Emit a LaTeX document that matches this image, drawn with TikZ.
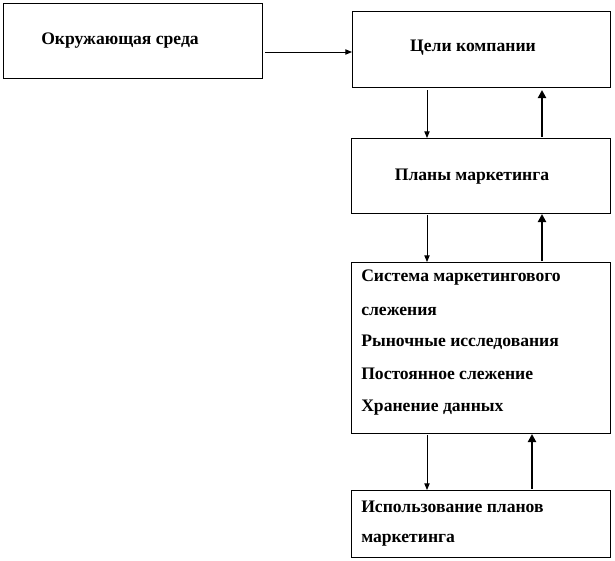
\documentclass[tikz,border=0pt]{standalone}
\usepackage{fontspec}
\setmainfont{Liberation Serif}
\usetikzlibrary{arrows.meta}
\begin{document}
\begin{tikzpicture}[x=0.75pt,y=-0.75pt,
  box/.style={draw,line width=0.75pt,inner sep=0pt,anchor=north west},
  lbl/.style={font=\bfseries\fontsize{13.2pt}{15pt}\selectfont,inner sep=0pt},
  lline/.style={font=\bfseries\fontsize{13.2pt}{15pt}\selectfont,inner sep=0pt,anchor=west},
  thin/.style={line width=0.75pt,-{Triangle[length=5pt,width=4pt]}},
  thick/.style={line width=2.2pt,-{Triangle[length=6pt,width=6pt]}}]
\useasboundingbox (0,0) rectangle (615,561);
\node[box,minimum width=259*0.75pt,minimum height=75*0.75pt] (env) at (3,3) {};
\node[box,minimum width=258*0.75pt,minimum height=76*0.75pt] (goals) at (352,11) {};
\node[box,minimum width=259*0.75pt,minimum height=75*0.75pt] (plans) at (351,138) {};
\node[box,minimum width=259*0.75pt,minimum height=171*0.75pt] (sys) at (351,262) {};
\node[box,minimum width=259*0.75pt,minimum height=67*0.75pt] (use) at (351,490) {};
\node[lbl] (tenv) at (120,41) {Окружающая среда};
\node[lbl] (tgoals) at (473,48) {Цели компании};
\node[lbl] (tplans) at (472,177) {Планы маркетинга};
\node[lline] (s1) at (361,278) {Система маркетингового};
\node[lline] (s2) at (361,311) {слежения};
\node[lline] (s3) at (361,342) {Рыночные исследования};
\node[lline] (s4) at (361,374) {Постоянное слежение};
\node[lline] (s5) at (361,408) {Хранение данных};
\node[lline] (u1) at (361,507) {Использование планов};
\node[lline] (u2) at (361,540) {маркетинга};
\coordinate (a1) at (265,52);
\draw[thin] (a1) -- (goals.west |- a1);
\coordinate (d1) at (427,90);
\draw[thin] (d1) -- (plans.north -| d1);
\coordinate (u1a) at (542,137);
\draw[thick] (u1a) -- (542,90);
\coordinate (d2) at (427,215);
\draw[thin] (d2) -- (sys.north -| d2);
\coordinate (u2a) at (542,261);
\draw[thick] (u2a) -- (plans.south -| u2a);
\coordinate (d3) at (427,435);
\draw[thin] (d3) -- (use.north -| d3);
\coordinate (u3a) at (532,489);
\draw[thick] (u3a) -- (sys.south -| u3a);
\end{tikzpicture}
\end{document}
